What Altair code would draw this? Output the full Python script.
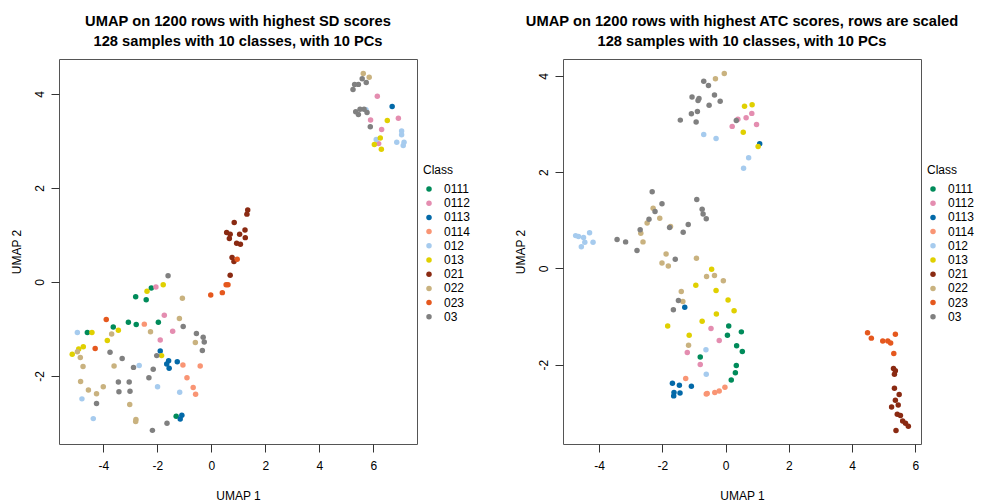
import altair as alt
import pandas as pd

FONT = "Liberation Sans"
CLASSES = ["0111", "0112", "0113", "0114", "012", "013", "021", "022", "023", "03"]
COLORS = ["#008B5A", "#E48DB0", "#0369A8", "#F99574", "#A6CBEE",
          "#E0D000", "#8A2A12", "#C9B27F", "#E5581E", "#808080"]
TICKS_X = [-4, -2, 0, 2, 4, 6]
TICKS_Y = [-2, 0, 2, 4]

TITLE_1 = ["UMAP on 1200 rows with highest SD scores",
           "128 samples with 10 classes, with 10 PCs"]
TITLE_2 = ["UMAP on 1200 rows with highest ATC scores, rows are scaled",
           "128 samples with 10 classes, with 10 PCs"]

# ---------------- panel 1 (SD) ----------------
P1_CLASS = (["0111"] * 9 + ["0112"] * 9 + ["0113"] * 8 + ["0114"] * 6 + ["012"] * 13
            + ["013"] * 13 + ["021"] * 14 + ["022"] * 18 + ["023"] * 7 + ["03"] * 30)
P1_X = [
    # 0111
    -2.22, -2.80, -2.41, -3.63, -3.07, -2.78, -1.96, -4.59, -1.30,
    # 0112
    6.15, 6.93, 5.90, 6.31, 6.20, -2.05, -1.74, -1.43, -1.89,
    # 0113
    6.70, -1.89, -1.58, -1.65, -1.56, -1.26, -1.09, -1.15,
    # 0114
    -2.48, -1.05, -0.41, -0.90, -0.67, -0.58,
    # 012
    5.73, 7.05, 7.05, 6.11, 6.87, 7.14, 7.11, -4.96, -2.67, -1.99, -1.17, -4.79, -4.37,
    # 013
    6.52, 6.26, 6.04, 6.30, -1.78, -2.38, -4.42, -3.44, -3.85, -4.74, -4.91, -5.15, -1.84,
    # 021
    1.35, 1.32, 0.85, 0.57, 0.70, 0.67, 1.05, 1.25, 1.26, 0.94, 1.08, 0.77, 0.84, 0.70,
    # 022
    5.63, 5.85, -1.07, -1.18, -3.69, -2.25, -0.59, -4.96, -4.85, -4.75, -3.60, -4.84,
    -4.00, -4.55, -4.25, -3.02, -2.79, -2.80,
    # 023
    0.96, 0.55, 0.62, 0.41, -0.02, -3.89, -4.30,
    # 03
    5.59, 5.74, 5.31, 5.45, 5.25, 5.35, 5.51, 5.45, 5.66, 5.77, 5.89,
    -1.60, -1.04, -0.55, -0.30, -0.26, -0.33, -3.75, -3.30, -2.02, -2.88, -2.15, -2.31,
    -3.44, -3.04, -3.42, -3.01, -4.25, -1.64, -2.18,
]
P1_Y = [
    # 0111
    -0.13, -0.32, -0.38, -0.96, -0.86, -0.91, -0.86, -1.08, -2.86,
    # 0112
    3.95, 3.48, 3.44, 3.24, 2.94, -0.11, -0.71, -1.05, -1.24,
    # 0113
    3.73, -1.47, -1.68, -1.75, -1.84, -1.70, -2.84, -2.92,
    # 0114
    -0.90, -1.77, -1.79, -2.04, -2.25, -2.39,
    # 012
    3.66, 3.21, 3.13, 3.03, 2.97, 2.97, 2.90, -1.08, -1.78, -2.23, -2.35, -2.49, -2.91,
    # 013
    3.43, 3.06, 2.92, 2.82, -0.06, -0.20, -1.08, -1.03, -1.25, -1.38, -1.43, -1.54, -1.57,
    # 021
    1.53, 1.44, 1.26, 1.05, 1.01, 0.92, 1.01, 1.10, 0.94, 0.82, 0.80, 0.52, 0.43, 0.14,
    # 022
    4.43, 4.35, -0.35, -0.78, -1.11, -1.06, -1.29, -1.49, -1.61, -1.80, -1.79, -2.12,
    -2.23, -2.30, -2.38, -2.61, -2.93, -2.97,
    # 023
    0.48, -0.06, -0.06, -0.23, -0.28, -0.80, -1.42,
    # 03
    4.32, 4.24, 4.20, 4.20, 4.09, 3.62, 3.67, 3.56, 3.67, 3.60, 3.30,
    0.13, -0.95, -1.10, -1.18, -1.28, -1.46, -1.50, -1.63, -1.57, -1.82, -1.86, -2.04,
    -2.13, -2.13, -2.34, -2.33, -2.59, -3.01, -3.16,
]

# ---------------- panel 2 (ATC) ----------------
P2_CLASS = (["0111"] * 9 + ["0112"] * 9 + ["0113"] * 8 + ["0114"] * 6 + ["012"] * 13
            + ["013"] * 13 + ["021"] * 14 + ["022"] * 18 + ["023"] * 7 + ["03"] * 31)
P2_X = [
    # 0111
    0.10, 0.50, 0.06, 0.35, 0.53, -0.80, 0.34, 0.31, 0.18,
    # 0112
    0.83, 0.65, 0.39, 0.21, 0.98, -0.46, -0.20, -1.21, -0.80,
    # 0113
    1.08, -1.29, -1.68, -1.46, -1.08, -1.63, -1.64, -1.44,
    # 0114
    -1.26, -0.02, -0.20, -0.34, -0.58, -0.61,
    # 012
    -0.69, -0.30, 0.73, 0.57, -4.74, -4.65, -4.49, -4.30, -4.45, -4.56, -4.19, -0.62, -0.61,
    # 013
    0.60, 0.84, 0.56, 1.03, -0.44, -0.94, -0.30, 0.08, 0.27, -0.29, -0.74, -1.83, -1.15,
    # 021
    5.31, 5.37, 5.34, 5.34, 5.49, 5.37, 5.46, 5.25, 5.43, 5.53, 5.60, 5.69, 5.78, 5.39,
    # 022
    -0.04, -0.32, -2.29, -2.48, -2.08, -2.68, -2.61, -1.74, -1.88, -2.01, -1.81, -0.92,
    -0.60, -0.35, -0.07, -1.40, -1.35, -1.17,
    # 023
    4.49, 4.61, 4.97, 5.13, 5.22, 5.37, 5.32,
    # 03
    -0.69, -0.54, -1.06, -0.84, -0.87, -0.35, -0.17, -0.52, -0.89, -1.08, -1.43, -0.93, 0.34,
    -2.32, -2.01, -2.23, -2.42, -2.70, -3.43, -3.16, -2.80, -1.77, -1.34, -1.18, -0.91,
    -0.74, -0.71, -0.61, -1.59, -1.49, -1.65,
]
P2_Y = [
    # 0111
    -1.20, -1.32, -1.39, -1.61, -1.73, -1.84, -2.02, -2.17, -2.32,
    # 0112
    3.22, 3.13, 3.10, 2.95, 2.99, -1.25, -1.50, -1.75, -2.00,
    # 0113
    2.59, -0.81, -2.39, -2.43, -2.45, -2.58, -2.65, -2.59,
    # 0114
    -2.29, -2.47, -2.55, -2.58, -2.60, -2.61,
    # 012
    2.78, 2.70, 2.30, 2.08, 0.68, 0.66, 0.64, 0.74, 0.54, 0.45, 0.54, -1.69, -2.20,
    # 013
    3.37, 3.40, 2.83, 2.53, -0.02, -0.35, -0.46, -0.66, -0.88, -0.95, -1.10, -1.20, -1.39,
    # 021
    -2.08, -2.13, -2.20, -2.49, -2.62, -2.74, -2.84, -2.88, -3.03, -3.06, -3.17, -3.22,
    -3.28, -3.37,
    # 022
    4.05, 3.94, 1.25, 0.94, 1.04, 0.73, 0.55, 0.87, 0.30, 0.11, 0.05, 0.21,
    -0.17, -0.15, -0.26, -0.48, -0.69, -1.60,
    # 023
    -1.34, -1.45, -1.51, -1.51, -1.55, -1.37, -1.77,
    # 03
    3.89, 3.80, 3.56, 3.53, 3.49, 3.60, 3.47, 3.39, 3.26, 3.21, 3.08, 3.04, 3.07,
    1.59, 1.34, 1.18, 1.02, 0.80, 0.60, 0.55, 0.37, 0.85, 0.75, 0.91, 1.43,
    1.23, 1.13, 1.03, 0.19, -0.67, -0.86,
]

P1_XDOM = [-5.64, 7.62]
P1_YDOM = [-3.45, 4.74]
P2_XDOM = [-5.14, 6.18]
P2_YDOM = [-3.65, 4.35]


def panel(cls, xs, ys, title, xdom, ydom):
    df = pd.DataFrame({"cls": cls, "x": xs, "y": ys})
    return alt.Chart(df).mark_point(
        filled=True, shape="circle", size=30, opacity=1, strokeWidth=0
    ).encode(
        x=alt.X("x:Q",
                scale=alt.Scale(domain=xdom, nice=False, zero=False),
                axis=alt.Axis(title="UMAP 1", values=TICKS_X, grid=False, domain=False,
                              tickSize=8, tickColor="#333333", labelFontSize=12,
                              labelPadding=8, labelColor="black", labelFont=FONT,
                              labelExpr="'' + datum.value",
                              titleFont=FONT, titleFontSize=12, titleFontWeight="normal",
                              titleColor="black", titlePadding=19)),
        y=alt.Y("y:Q",
                scale=alt.Scale(domain=ydom, nice=False, zero=False),
                axis=alt.Axis(title="UMAP 2", values=TICKS_Y, grid=False, domain=False,
                              tickSize=8, tickColor="#333333", labelFontSize=12,
                              labelAngle=-90, labelAlign="center", labelBaseline="bottom",
                              labelPadding=5, labelColor="black", labelFont=FONT,
                              labelExpr="'' + datum.value",
                              titleFont=FONT, titleFontSize=12, titleFontWeight="normal",
                              titleColor="black", titlePadding=10)),
        color=alt.Color("cls:N",
                        scale=alt.Scale(domain=CLASSES, range=COLORS),
                        legend=alt.Legend(title="Class", orient="none", legendX=364, legendY=106,
                                          titleFont=FONT, titleFontSize=12,
                                          titleFontWeight="normal", titleColor="black",
                                          labelFont=FONT, labelFontSize=12, labelColor="black",
                                          symbolType="circle", symbolSize=30,
                                          symbolStrokeWidth=0, titlePadding=6, rowPadding=2.2,
                                          labelOffset=9, symbolOffset=0, padding=0)),
    ).properties(
        width=358, height=385,
        title=alt.Title(title, font=FONT, fontSize=14.7, fontWeight="bold", color="black",
                        anchor="middle", frame="group", lineHeight=20, offset=10),
    )


p1 = panel(P1_CLASS, P1_X, P1_Y, TITLE_1, P1_XDOM, P1_YDOM)
p2 = panel(P2_CLASS, P2_X, P2_Y, TITLE_2, P2_XDOM, P2_YDOM)

chart = alt.hconcat(p1, p2, spacing=42).resolve_scale(
    color="independent", x="independent", y="independent"
).configure_view(stroke="#555555", strokeWidth=1).properties(
    padding={"left": 1, "top": 5, "right": 0, "bottom": 0}
)

chart.save("out.html", embed_options={"renderer": "svg", "actions": False})
